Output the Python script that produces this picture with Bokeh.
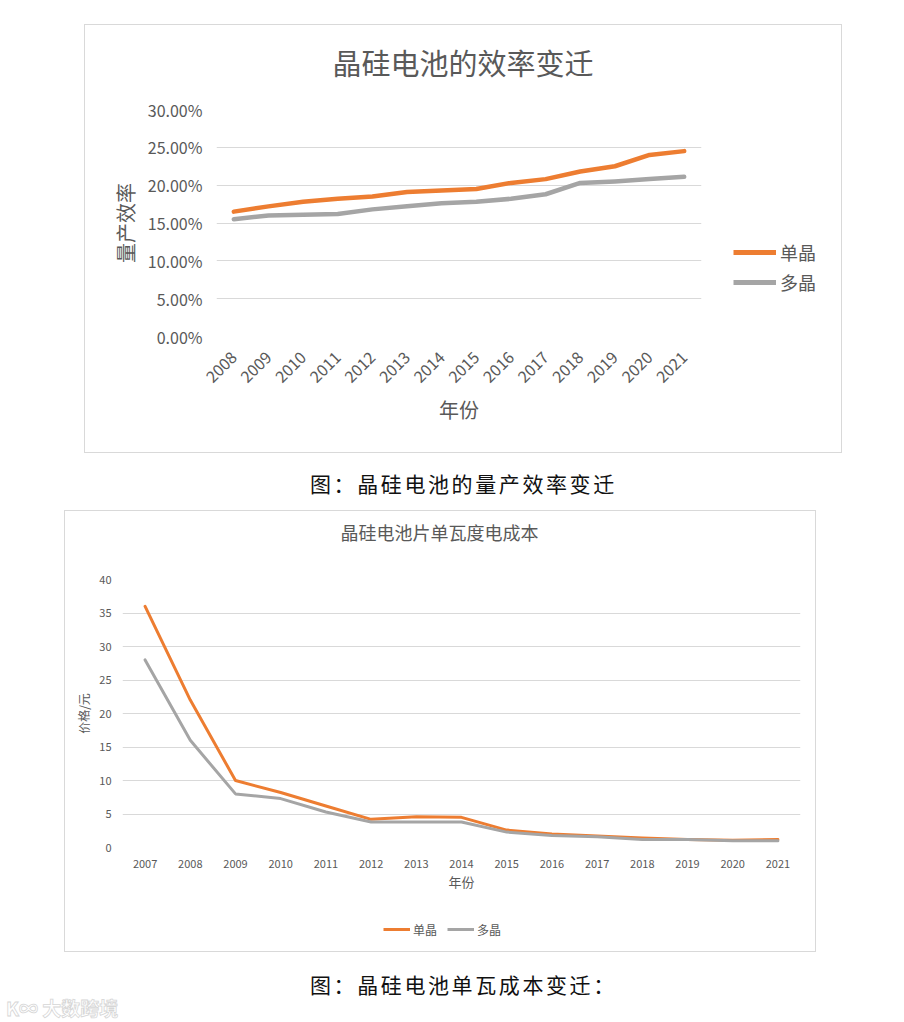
import math
import numpy as np
from bokeh.plotting import figure
from bokeh.models import (FactorRange, Range1d, NumeralTickFormatter, Legend, LegendItem,
                          Div, Spacer, SingleIntervalTicker, FixedTicker, Title)
from bokeh.layouts import column, row
from bokeh.embed import file_html
from bokeh.resources import INLINE

FONT = "Noto Sans CJK SC"
ORANGE = "#ED7D31"
GRAY = "#A5A5A5"
TXT = "#595959"
GRID = "#D9D9D9"
BOX = {"border": "1px solid #D9D9D9"}

# ---------------- data ----------------
eff_years = ["2008", "2009", "2010", "2011", "2012", "2013", "2014",
             "2015", "2016", "2017", "2018", "2019", "2020", "2021"]
eff_mono = [0.165, 0.172, 0.178, 0.182, 0.185, 0.191, 0.193,
            0.195, 0.203, 0.208, 0.218, 0.225, 0.240, 0.245]
eff_poly = [0.155, 0.160, 0.161, 0.162, 0.168, 0.172, 0.176,
            0.178, 0.182, 0.188, 0.203, 0.205, 0.208, 0.211]
eff_ticks = [0.0, 0.05, 0.10, 0.15, 0.20, 0.25, 0.30]

cost_years = ["2007", "2008", "2009", "2010", "2011", "2012", "2013", "2014",
              "2015", "2016", "2017", "2018", "2019", "2020", "2021"]
cost_mono = [36, 22, 10, 8.2, 6.2, 4.2, 4.6, 4.5, 2.6, 2.0, 1.7, 1.4, 1.2, 1.1, 1.2]
cost_poly = [28, 16, 8, 7.3, 5.3, 3.8, 3.8, 3.8, 2.3, 1.8, 1.6, 1.2, 1.2, 1.0, 1.0]

series_names = ["单晶", "多晶"]
title1 = "晶硅电池的效率变迁"
title2 = "晶硅电池片单瓦度电成本"
caption1 = "图：晶硅电池的量产效率变迁"
caption2 = "图：晶硅电池单瓦成本变迁："
watermark = "K∞ 大数跨境"


def style_axes(p, tick_size, label_size):
    for ax in (p.xaxis[0], p.yaxis[0]):
        ax.axis_line_color = None
        ax.major_tick_line_color = None
        ax.minor_tick_line_color = None
        ax.major_label_text_font = FONT
        ax.major_label_text_color = TXT
        ax.major_label_text_font_size = tick_size
        ax.axis_label_text_font = FONT
        ax.axis_label_text_color = TXT
        ax.axis_label_text_font_size = label_size
        ax.axis_label_text_font_style = "normal"
    p.xgrid.grid_line_color = None
    p.ygrid.grid_line_color = GRID
    p.ygrid.grid_line_width = 1
    p.outline_line_color = None


def add_title(p, text, size, offset, gap):
    # invisible spacer title next to the frame, then the real title above it
    p.add_layout(Title(text=" ", text_font_size="2px", standoff=gap, align="left"), "above")
    p.add_layout(Title(text=text, text_font=FONT, text_font_size=size, text_color=TXT,
                       text_font_style="normal", align="left", vertical_align="top",
                       offset=offset, standoff=0), "above")


def legend_figure(width, height):
    f = figure(width=width, height=height, x_range=Range1d(0, 1), y_range=Range1d(0, 1),
               output_backend="svg", toolbar_location=None,
               x_axis_location=None, y_axis_location=None, min_border=0)
    f.grid.visible = False
    f.outline_line_color = None
    return f


# ---------------- top chart ----------------
p1 = figure(width=626, height=427, x_range=FactorRange(*eff_years, range_padding=0),
            y_range=Range1d(0, 0.30), output_backend="svg", toolbar_location=None,
            min_border_left=131, min_border_right=10, min_border_top=84,
            min_border_bottom=116, title=None)
style_axes(p1, "16px", "20px")
add_title(p1, title1, "29px", 116, 21)
p1.yaxis.ticker = FixedTicker(ticks=eff_ticks)
p1.yaxis.formatter = NumeralTickFormatter(format="0.00%")
p1.yaxis.major_label_standoff = 8
p1.yaxis.axis_label = "量产效率"
p1.yaxis.axis_label_standoff = 5
p1.xaxis.major_label_orientation = math.pi / 4
p1.xaxis.major_label_standoff = 12
p1.xaxis.axis_label = "年份"
p1.xaxis.axis_label_standoff = 4

p1.line(x=eff_years, y=eff_mono, line_width=4.5, color=ORANGE,
        line_cap="round", line_join="round")
p1.line(x=eff_years, y=eff_poly, line_width=4.5, color=GRAY,
        line_cap="round", line_join="round")

lf1 = legend_figure(130, 427)
lr1 = lf1.line(x=[np.nan], y=[np.nan], line_width=5, color=ORANGE)
lr2 = lf1.line(x=[np.nan], y=[np.nan], line_width=5, color=GRAY)
leg1 = Legend(items=[LegendItem(label=series_names[0], renderers=[lr1]),
                     LegendItem(label=series_names[1], renderers=[lr2])],
              location=(22, 41), orientation="vertical",
              glyph_width=43, glyph_height=20, label_height=20, label_standoff=4,
              spacing=4, padding=0, margin=0, border_line_color=None,
              background_fill_alpha=0, label_text_font=FONT,
              label_text_font_size="18px", label_text_color=TXT)
lf1.add_layout(leg1)

# ---------------- bottom chart ----------------
p2 = figure(width=750, height=395, x_range=FactorRange(*cost_years, range_padding=0),
            y_range=Range1d(0, 40), output_backend="svg", toolbar_location=None,
            min_border_left=57, min_border_right=15, min_border_top=68,
            min_border_bottom=59, title=None)
style_axes(p2, "11px", "12px")
add_title(p2, title2, "18px", 218, 29)
p2.yaxis.ticker = SingleIntervalTicker(interval=5, num_minor_ticks=0)
p2.yaxis.major_label_standoff = 5
p2.yaxis.axis_label = "价格/元"
p2.yaxis.axis_label_standoff = 4
p2.xaxis.major_label_standoff = 6
p2.xaxis.axis_label = "年份"
p2.xaxis.axis_label_text_font_size = "13px"
p2.xaxis.axis_label_standoff = 1

p2.line(x=cost_years, y=cost_mono, line_width=3, color=ORANGE,
        line_cap="round", line_join="round")
p2.line(x=cost_years, y=cost_poly, line_width=3, color=GRAY,
        line_cap="round", line_join="round")

lf2 = legend_figure(750, 45)
ls1 = lf2.line(x=[np.nan], y=[np.nan], line_width=3, color=ORANGE)
ls2 = lf2.line(x=[np.nan], y=[np.nan], line_width=3, color=GRAY)
leg2 = Legend(items=[LegendItem(label=series_names[0], renderers=[ls1]),
                     LegendItem(label=series_names[1], renderers=[ls2])],
              location=(261, 12), orientation="horizontal",
              glyph_width=27, glyph_height=20, label_height=20, label_standoff=3,
              spacing=10, padding=0, margin=0, border_line_color=None,
              background_fill_alpha=0, label_text_font=FONT,
              label_text_font_size="12px", label_text_color=TXT)
lf2.add_layout(leg2)

# ---------------- captions ----------------
def cap_style(top):
    return (f"position:absolute;left:310px;top:{top}px;font-family:'Noto Sans CJK SC';"
            "font-size:21px;line-height:24px;letter-spacing:2.6px;color:#111;white-space:nowrap;")


cap1 = Div(width=888, height=57, margin=0,
           text=f'<div style="position:relative;width:888px;height:57px">'
                f'<span style="{cap_style(18)}">{caption1}</span></div>')
cap2 = Div(width=888, height=62, margin=0,
           text=f'<div style="position:relative;width:888px;height:62px">'
                f'<span style="{cap_style(20)}">{caption2}</span>'
                f'<span style="position:absolute;left:6px;top:42px;font-family:\'Noto Sans CJK SC\';'
                f'font-size:19px;font-weight:bold;color:#ffffff;-webkit-text-stroke:0.8px #d6d6d6;'
                f'white-space:nowrap;">{watermark}</span>'
                f'</div>')

top_box = row(p1, lf1, styles=BOX)
bottom_box = column(p2, lf2, styles=BOX)

layout = column(Spacer(height=24),
                row(Spacer(width=84), top_box),
                cap1,
                row(Spacer(width=64), bottom_box),
                cap2)

open("out.html", "w").write(file_html(layout, INLINE))
